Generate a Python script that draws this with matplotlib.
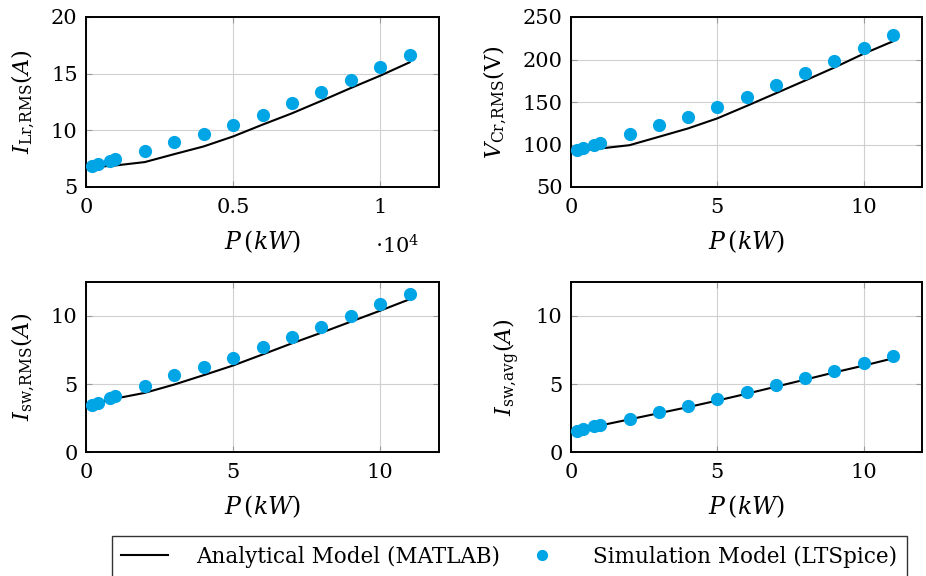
import matplotlib
matplotlib.use("Agg")
import matplotlib.pyplot as plt
from matplotlib.ticker import FuncFormatter

plt.rcParams['font.family'] = ['DejaVu Serif']
plt.rcParams['mathtext.fontset'] = 'dejavuserif'
plt.rcParams['font.size'] = 14

# output power
p_watt = [200, 400, 800, 1000, 2000, 3000, 4000, 5000, 6000, 7000, 8000, 9000, 10000, 11000]
p_kw = [0.2, 0.4, 0.8, 1, 2, 3, 4, 5, 6, 7, 8, 9, 10, 11]

# analytical model (MATLAB)
ilr_model = [6.75, 6.8, 6.85, 6.9, 7.2, 7.9, 8.58, 9.46, 10.5, 11.5, 12.6, 13.73, 14.82, 16.0]
vcr_model = [93.0, 93.5, 94.5, 95.3, 99.2, 109.0, 118.9, 130.7, 145.3, 160.2, 175.2, 190.5, 206.7, 221.3]
isw_rms_model = [3.4, 3.55, 3.85, 3.93, 4.35, 4.96, 5.65, 6.36, 7.17, 7.99, 8.77, 9.58, 10.39, 11.23]
isw_avg_model = [1.55, 1.63, 1.82, 1.95, 2.4, 2.85, 3.3, 3.78, 4.28, 4.8, 5.32, 5.85, 6.35, 6.88]

# simulation model (LTSpice)
ilr_sim = [6.82, 7.03, 7.26, 7.47, 8.2, 8.97, 9.64, 10.44, 11.38, 12.38, 13.38, 14.44, 15.55, 16.61]
vcr_sim = [93.3, 95.3, 99.2, 101.2, 112.2, 123.2, 132.3, 143.7, 156.3, 170.1, 183.9, 198.0, 213.4, 228.3]
isw_rms_sim = [3.44, 3.61, 3.96, 4.1, 4.82, 5.63, 6.22, 6.93, 7.69, 8.48, 9.21, 10.02, 10.86, 11.62]
isw_avg_sim = [1.57, 1.67, 1.89, 1.99, 2.43, 2.95, 3.37, 3.88, 4.4, 4.91, 5.43, 5.97, 6.51, 7.03]

sim_color = '#00a5e6'

fig = plt.figure(figsize=(9.26, 5.76), dpi=100)
W, H = 926, 576

def make_ax(x0, y0, x1, y1):
    return fig.add_axes([x0 / W, 1 - y1 / H, (x1 - x0) / W, (y1 - y0) / H])

ax1 = make_ax(86, 17, 439, 187)
ax2 = make_ax(571, 17, 922, 187)
ax3 = make_ax(86, 282, 439, 452)
ax4 = make_ax(571, 282, 922, 452)

panels = [
    (ax1, p_watt, ilr_model, ilr_sim, r'$I_{\mathrm{Lr{,}RMS}}(A)$', (0, 12000), (5, 20), [0, 5000, 10000], [5, 10, 15, 20]),
    (ax2, p_kw, vcr_model, vcr_sim, r'$V_{\mathrm{Cr{,}RMS}}(\mathrm{V})$', (0, 12), (50, 250), [0, 5, 10], [50, 100, 150, 200, 250]),
    (ax3, p_kw, isw_rms_model, isw_rms_sim, r'$I_{\mathrm{sw{,}RMS}}(A)$', (0, 12), (0, 12.5), [0, 5, 10], [0, 5, 10]),
    (ax4, p_kw, isw_avg_model, isw_avg_sim, r'$I_{\mathrm{sw{,}avg}}(A)$', (0, 12), (0, 12.5), [0, 5, 10], [0, 5, 10]),
]

for ax, x, ym, ys, ylab, xl, yl, xt, yt in panels:
    ax.plot(x, ym, color='black', lw=1.5, label='Analytical Model (MATLAB)', zorder=3)
    ax.plot(x, ys, 'o', color=sim_color, ms=9.5, mec='none', label='Simulation Model (LTSpice)', zorder=4)
    ax.set_xlim(*xl)
    ax.set_ylim(*yl)
    ax.set_xticks(xt)
    ax.set_yticks(yt)
    ax.grid(True, color='#d0d0d0', lw=0.8)
    ax.set_axisbelow(True)
    ax.tick_params(direction='in', top=True, right=True, color='#999999', length=4, labelsize=15)
    ax.tick_params(axis='x', pad=8)
    ax.tick_params(axis='y', pad=6)
    ax.set_ylabel(ylab, fontsize=16, labelpad=10)
    ax.set_xlabel(r'$P\,(kW)$', fontsize=17, labelpad=8)
    for s in ax.spines.values():
        s.set_linewidth(1.4)

ax1.xaxis.set_major_formatter(FuncFormatter(lambda v, pos: '%g' % (v / 1e4)))
fig.text(397 / W, 1 - 246 / H, r'$\cdot 10^4$', fontsize=15, ha='center', va='center')

handles, labels = ax1.get_legend_handles_labels()
leg = fig.legend(handles, labels, ncol=2, loc='upper left',
                 bbox_to_anchor=(111.7 / W, 1 - 536 / H),
                 frameon=True, fancybox=False, edgecolor='black',
                 fontsize=15.5, handlelength=2.15, handletextpad=1.3,
                 columnspacing=0.9, borderpad=0.45, borderaxespad=0,
                 markerscale=0.85)
leg.get_frame().set_linewidth(1.0)

fig.savefig('out.png', dpi=100)
